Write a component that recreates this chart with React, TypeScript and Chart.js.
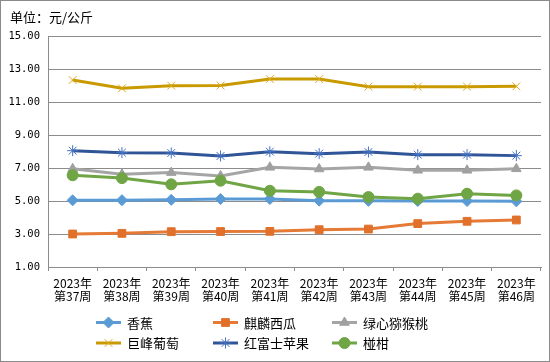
import React, { useEffect, useRef } from "react";
import { Chart, registerables } from "chart.js";
import { drawPoint } from "chart.js/helpers";

Chart.register(...registerables);

const categories: string[][] = [
  ["2023年", "第37周"],
  ["2023年", "第38周"],
  ["2023年", "第39周"],
  ["2023年", "第40周"],
  ["2023年", "第41周"],
  ["2023年", "第42周"],
  ["2023年", "第43周"],
  ["2023年", "第44周"],
  ["2023年", "第45周"],
  ["2023年", "第46周"],
];

const banana = [5.04, 5.05, 5.07, 5.12, 5.12, 5.02, 5.01, 5.0, 5.0, 4.98];
const watermelon = [3.0, 3.04, 3.14, 3.15, 3.16, 3.26, 3.3, 3.63, 3.77, 3.85];
const kiwi = [6.95, 6.62, 6.72, 6.52, 7.04, 6.94, 7.04, 6.86, 6.86, 6.95];
const grape = [12.33, 11.83, 11.99, 12.0, 12.39, 12.39, 11.93, 11.93, 11.93, 11.95];
const apple = [8.05, 7.93, 7.91, 7.73, 7.99, 7.87, 7.97, 7.81, 7.81, 7.75];
const ponkan = [6.56, 6.39, 6.01, 6.23, 5.62, 5.55, 5.24, 5.14, 5.44, 5.34];

const seriesNames = ["香蕉", "麒麟西瓜", "绿心猕猴桃", "巨峰葡萄", "红富士苹果", "椪柑"];
const yTicks = [1, 3, 5, 7, 9, 11, 13, 15];
const unitTitle = "单位：元/公斤";

const CJK = '"Noto Sans CJK SC", "DejaVu Sans", sans-serif';
const GRID = "#8c8c8c";

export default function App() {
  const ref = useRef<HTMLCanvasElement | null>(null);

  useEffect(() => {
    document.body.style.margin = "0";
    const canvas = ref.current;
    if (!canvas) return;

    const styles = [
      { line: "#5B9BD5", marker: "#5B9BD5", pointStyle: "rectRot", radius: 5.5 },
      { line: "#E47A35", marker: "#E0702A", pointStyle: "rect", radius: 5.5 },
      { line: "#A5A5A5", marker: "#A0A0A0", pointStyle: "triangle", radius: 5.5 },
      { line: "#C99A00", marker: "#DDAA22", pointStyle: "crossRot", radius: 5.5 },
      { line: "#2F5597", marker: "#4472C4", pointStyle: "star", radius: 5.5 },
      { line: "#6FA544", marker: "#6FA544", pointStyle: "circle", radius: 5.5 },
    ];
    const values = [banana, watermelon, kiwi, grape, apple, ponkan];

    const datasets = values.map((d, i) => ({
      label: seriesNames[i],
      data: d,
      borderColor: styles[i].line,
      backgroundColor: styles[i].marker,
      borderWidth: 3,
      pointStyle: styles[i].pointStyle as any,
      pointRadius: styles[i].radius,
      pointBorderColor: styles[i].marker,
      pointBackgroundColor: styles[i].marker,
      pointBorderWidth: 1,
      tension: 0,
      order: values.length - i,
    }));

    const legendCols = [96, 213, 332];
    const legendRows = [322.5, 343];

    const decor = {
      id: "decor",
      beforeDraw(chart: any) {
        const ctx = chart.ctx;
        ctx.save();
        ctx.fillStyle = "#ffffff";
        ctx.fillRect(0, 0, chart.width, chart.height);
        ctx.restore();
      },
      afterDraw(chart: any) {
        const ctx = chart.ctx;
        ctx.save();
        ctx.strokeStyle = "#8a8a8a";
        ctx.lineWidth = 1;
        ctx.strokeRect(0.5, 0.5, chart.width - 1, chart.height - 1);
        ctx.fillStyle = "#000";
        ctx.font = `13px ${CJK}`;
        ctx.textBaseline = "middle";
        ctx.textAlign = "left";
        ctx.fillText(unitTitle, 10, 17);
        chart.data.datasets.forEach((ds: any, i: number) => {
          const x = legendCols[i % 3];
          const y = legendRows[Math.floor(i / 3)];
          ctx.strokeStyle = ds.borderColor;
          ctx.lineWidth = 3;
          ctx.beginPath();
          ctx.moveTo(x, y);
          ctx.lineTo(x + 25, y);
          ctx.stroke();
          ctx.fillStyle = ds.pointBackgroundColor;
          ctx.strokeStyle = ds.pointBorderColor;
          ctx.lineWidth = 1;
          drawPoint(ctx, { pointStyle: ds.pointStyle, radius: 5.5, rotation: 0, borderWidth: 1 } as any, x + 12.5, y);
          ctx.fillStyle = "#000";
          ctx.font = `13px ${CJK}`;
          ctx.fillText(ds.label, x + 31, y + 0.5);
        });
        ctx.restore();
      },
    };

    const chart = new Chart(canvas, {
      type: "line",
      data: { labels: categories, datasets },
      plugins: [decor],
      options: {
        responsive: false,
        animation: false,
        layout: { padding: { top: 36, right: 9, left: 0, bottom: 0 } },
        plugins: {
          legend: { display: false },
          title: { display: false },
          tooltip: { enabled: false },
        },
        scales: {
          x: {
            offset: true,
            grid: {
              offset: true,
              drawOnChartArea: false,
              drawTicks: true,
              tickLength: 4,
              color: GRID,
            },
            border: { display: true, color: GRID, width: 1 },
            ticks: {
              color: "#000",
              font: { family: CJK, size: 12, lineHeight: 1.1 },
              padding: 6,
              maxRotation: 0,
              autoSkip: false,
            },
            afterFit(scale: any) {
              scale.height = 95;
            },
          },
          y: {
            min: 1,
            max: 15,
            afterBuildTicks(scale: any) {
              scale.ticks = yTicks.map((v) => ({ value: v }));
            },
            grid: { color: GRID, drawTicks: false, lineWidth: 1 },
            border: { display: true, color: GRID, width: 1 },
            ticks: {
              color: "#000",
              font: { family: '"DejaVu Sans Mono", monospace', size: 10.5 },
              padding: 8,
              callback: (v: any) => Number(v).toFixed(2),
            },
            afterFit(scale: any) {
              scale.width = 48;
            },
          },
        },
      },
    });
    return () => chart.destroy();
  }, []);

  return <canvas ref={ref} width={550} height={362} style={{ display: "block" }} />;
}
